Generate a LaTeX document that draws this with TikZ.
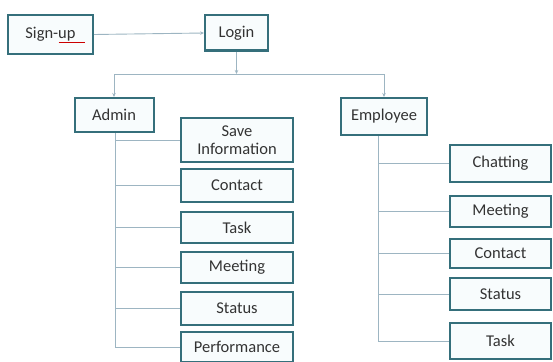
\documentclass[tikz,border=0pt]{standalone}
\usepackage{fontspec}
\setmainfont{Carlito}
\usetikzlibrary{arrows.meta,calc}
\definecolor{boxline}{HTML}{356F7B}
\definecolor{boxfill}{HTML}{F8FCFD}
\definecolor{conn}{HTML}{9DB5C2}
\definecolor{txt}{HTML}{333333}
\tikzset{
  box/.style={draw=boxline, line width=2pt, fill=boxfill, inner sep=0pt, text=txt,
    font=\fontsize{16.5}{18}\selectfont, align=center},
  conline/.style={draw=conn, line width=0.9pt},
  arr/.style={conline, -{Stealth[length=4pt,width=3.5pt]}}
}
\begin{document}
\begin{tikzpicture}[x=1pt,y=-1pt]
\useasboundingbox (0,0) rectangle (553,361);
% top
\node[box, minimum width=85pt, minimum height=39pt] (signup) at (50.5,34.5) {Sign-up};
\node[box, minimum width=63pt, minimum height=35pt] (login) at (236.5,33) {Login};
\draw[arr] (signup.east) -- (login.west);
\draw[red!80!black, line width=0.6pt] ($(signup.center)+(8,8)$) -- ($(signup.center)+(34,8)$);
% second level
\node[box, minimum width=79pt, minimum height=34pt] (admin) at (114,115) {Admin};
\node[box, minimum width=86pt, minimum height=37pt] (emp) at (384,116.5) {Employee};
\coordinate (hub) at (236.5,74);
\draw[arr] (login.south) -- (hub);
\draw[arr] (hub) -| (admin.north);
\draw[arr] (hub) -| (emp.north);
% admin children
\foreach \n/\t/\y/\h in {a1/{Save\\Information}/140/44, a2/Contact/185.5/33, a3/Task/227.5/31,
  a4/Meeting/267.5/31, a5/Status/308.5/33, a6/Performance/347/30}{
  \node[box, minimum width=112pt, minimum height=\h pt] (\n) at (237,\y) {\t};
}
\coordinate (av) at ($(admin.south)+(1,0)$);
\foreach \n in {a1,a2,a3,a4,a5,a6}{
  \draw[conline] (av) |- (\n.west);
}
% employee children
\foreach \n/\t/\y/\h in {e1/Chatting/163.5/37, e2/Meeting/211.5/31, e3/Contact/253/29,
  e4/Status/294/32, e5/Task/341/36}{
  \node[box, minimum width=101pt, minimum height=\h pt] (\n) at (500.5,\y) {\t};
}
\coordinate (ev) at ($(emp.south)+(-6,0)$);
\foreach \n in {e1,e2,e3,e4,e5}{
  \draw[conline] (ev) |- (\n.west);
}
\end{tikzpicture}
\end{document}
